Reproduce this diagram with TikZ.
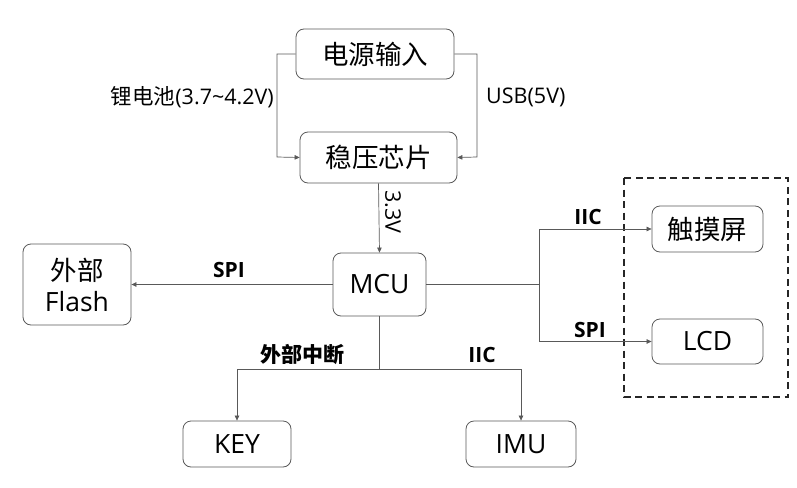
\documentclass[tikz,border=0pt]{standalone}
\usepackage{fontspec}
\setmainfont{Open Sans}
\newfontfamily\cjk{Noto Sans CJK SC}
\usetikzlibrary{arrows.meta}
\begin{document}
\begin{tikzpicture}[x=1pt,y=-1pt,
  box/.style={draw=black!65,line width=0.8pt,rounded corners=8pt,inner sep=0pt,font=\fontsize{26.5}{30}\selectfont,align=center},
  conn/.style={draw=black!65,line width=0.7pt,-{Triangle[length=5pt,width=4.5pt]}},
  plain/.style={draw=black!65,line width=0.7pt},
  lbl/.style={font=\fontsize{21}{24}\selectfont\bfseries,inner sep=0pt},
  side/.style={font=\fontsize{21.5}{24}\selectfont,inner sep=0pt}]
\useasboundingbox (0,0) rectangle (797,487);
% boxes
\node[box,minimum width=158pt,minimum height=50pt] (pwr) at (375,54) {\cjk 电源输入};
\node[box,minimum width=157pt,minimum height=51pt] (reg) at (378.5,157.5) {\cjk 稳压芯片};
\node[box,minimum width=93pt,minimum height=63pt] (mcu) at (379.5,284.5) {MCU};
\node[box,minimum width=108pt,minimum height=81pt,font=\fontsize{26.5}{31}\selectfont] (flash) at (77,284.5) {{\cjk 外部}\\Flash};
\node[box,minimum width=111pt,minimum height=46pt] (touch) at (707.5,229) {\cjk 触摸屏};
\node[box,minimum width=111pt,minimum height=45pt] (lcd) at (707.5,341.5) {LCD};
\node[box,minimum width=108pt,minimum height=46pt] (key) at (237,444) {KEY};
\node[box,minimum width=110pt,minimum height=46pt] (imu) at (521,444) {IMU};
% dashed group
\draw[black!85,line width=1.3pt,dash pattern=on 7pt off 4.5pt] (624,178) rectangle (788,397);
% coordinates
\coordinate (lt) at (277,54);
\coordinate (lb) at (277,157);
\coordinate (rt) at (477,54);
\coordinate (rb) at (477,157);
\coordinate (rj) at (539,284.5);
\coordinate (bj) at (379.5,369);
% power
\draw[conn] (pwr.west) -- (lt) -- (lb) -- (reg.west);
\draw[conn] (pwr.east) -- (rt) -- (rb) -- (reg.east);
\node[side,anchor=east] (lilbl) at (274,97) {{\cjk 锂电池}(3.7\textasciitilde 4.2V)};
\node[side,anchor=west] (usblbl) at (486,97) {USB(5V)};
\draw[conn] (reg.south) -- (mcu.north);
\node[side,rotate=-90] (v33) at (393,212) {3.3V};
% flash
\draw[conn] (mcu.west) -- (flash.east);
\node[lbl] (spi1) at (229,270) {SPI};
% right
\draw[plain] (mcu.east) -- (rj);
\draw[conn] (rj) |- (touch.west);
\draw[conn] (rj) |- (lcd.west);
\node[lbl] (iic1) at (588,217) {IIC};
\node[lbl] (spi2) at (590,330) {SPI};
% bottom
\draw[plain] (mcu.south) -- (bj);
\draw[conn] (bj) -| (key.north);
\draw[conn] (bj) -| (imu.north);
\node[lbl] (int) at (302,355) {\cjk\bfseries 外部中断};
\node[lbl] (iic2) at (482,355) {IIC};
\end{tikzpicture}
\end{document}
